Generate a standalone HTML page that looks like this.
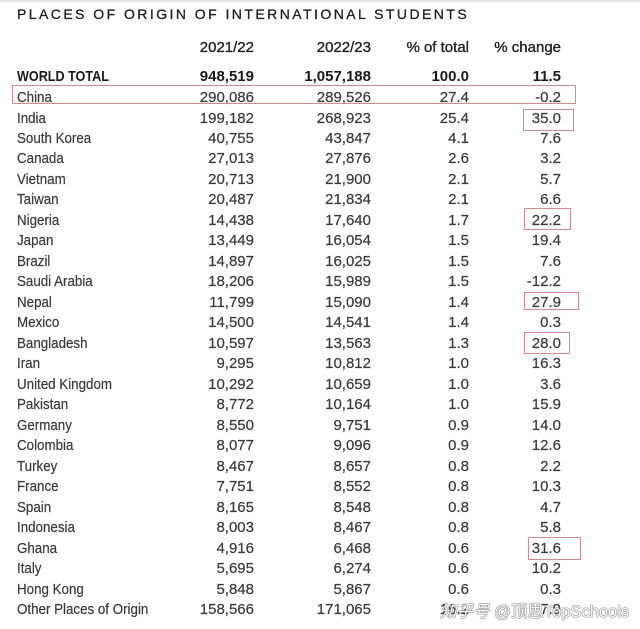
<!DOCTYPE html>
<html><head><meta charset="utf-8">
<style>
html,body{margin:0;padding:0;background:#fff;}
body{width:640px;height:629px;position:relative;overflow:hidden;font-family:"Liberation Sans","Noto Sans CJK SC",sans-serif;color:#3a3a3a;}
.top{position:absolute;left:0;top:0;width:640px;height:2px;background:#e4e4e4;}
.title{position:absolute;left:17px;top:5px;font-size:14px;line-height:18px;letter-spacing:2.45px;color:#1e1e1e;white-space:nowrap;-webkit-text-stroke:0.3px #1e1e1e;}
.r{position:absolute;left:0;width:640px;height:20px;line-height:20px;font-size:15px;white-space:nowrap;-webkit-text-stroke:0.2px #3a3a3a;}
.r span{position:absolute;}
.n{left:17px;transform:scaleX(0.89);transform-origin:0 50%;}
.a{right:386px;}
.b{right:269px;}
.c{right:171px;}
.d{right:79px;}
.h{color:#222;-webkit-text-stroke:0.35px #222;}
.w{font-weight:bold;color:#1a1a1a;-webkit-text-stroke:0;}
.w .n{transform:scaleX(0.84);}
.box{position:absolute;border:1.5px solid #d98891;box-sizing:border-box;}
.wm{position:absolute;left:440px;top:601px;font-size:16.5px;line-height:22px;color:#fff;white-space:nowrap;text-shadow:0 0 1px #555,0 0 1px #555,0 0 1px #777;font-family:"Liberation Sans","Noto Sans CJK SC",sans-serif;}
.wm i{font-style:italic;}
</style></head><body>
<div class="top"></div>
<div class="title">PLACES OF ORIGIN OF INTERNATIONAL STUDENTS</div>

<div class="r h" style="top:38px"><span class="a">2021/22</span><span class="b">2022/23</span><span class="c">% of total</span><span class="d">% change</span></div>
<div class="r w" style="top:67px"><span class="n">WORLD TOTAL</span><span class="a">948,519</span><span class="b">1,057,188</span><span class="c">100.0</span><span class="d">11.5</span></div>

<div class="r" style="top:88px"><span class="n">China</span><span class="a">290,086</span><span class="b">289,526</span><span class="c">27.4</span><span class="d">-0.2</span></div>
<div class="r" style="top:108.5px"><span class="n">India</span><span class="a">199,182</span><span class="b">268,923</span><span class="c">25.4</span><span class="d">35.0</span></div>
<div class="r" style="top:129px"><span class="n">South Korea</span><span class="a">40,755</span><span class="b">43,847</span><span class="c">4.1</span><span class="d">7.6</span></div>
<div class="r" style="top:149.4px"><span class="n">Canada</span><span class="a">27,013</span><span class="b">27,876</span><span class="c">2.6</span><span class="d">3.2</span></div>
<div class="r" style="top:169.9px"><span class="n">Vietnam</span><span class="a">20,713</span><span class="b">21,900</span><span class="c">2.1</span><span class="d">5.7</span></div>
<div class="r" style="top:190.4px"><span class="n">Taiwan</span><span class="a">20,487</span><span class="b">21,834</span><span class="c">2.1</span><span class="d">6.6</span></div>
<div class="r" style="top:210.9px"><span class="n">Nigeria</span><span class="a">14,438</span><span class="b">17,640</span><span class="c">1.7</span><span class="d">22.2</span></div>
<div class="r" style="top:231.4px"><span class="n">Japan</span><span class="a">13,449</span><span class="b">16,054</span><span class="c">1.5</span><span class="d">19.4</span></div>
<div class="r" style="top:251.8px"><span class="n">Brazil</span><span class="a">14,897</span><span class="b">16,025</span><span class="c">1.5</span><span class="d">7.6</span></div>
<div class="r" style="top:272.3px"><span class="n">Saudi Arabia</span><span class="a">18,206</span><span class="b">15,989</span><span class="c">1.5</span><span class="d">-12.2</span></div>
<div class="r" style="top:292.8px"><span class="n">Nepal</span><span class="a">11,799</span><span class="b">15,090</span><span class="c">1.4</span><span class="d">27.9</span></div>
<div class="r" style="top:313.3px"><span class="n">Mexico</span><span class="a">14,500</span><span class="b">14,541</span><span class="c">1.4</span><span class="d">0.3</span></div>
<div class="r" style="top:333.8px"><span class="n">Bangladesh</span><span class="a">10,597</span><span class="b">13,563</span><span class="c">1.3</span><span class="d">28.0</span></div>
<div class="r" style="top:354.2px"><span class="n">Iran</span><span class="a">9,295</span><span class="b">10,812</span><span class="c">1.0</span><span class="d">16.3</span></div>
<div class="r" style="top:374.7px"><span class="n">United Kingdom</span><span class="a">10,292</span><span class="b">10,659</span><span class="c">1.0</span><span class="d">3.6</span></div>
<div class="r" style="top:395.2px"><span class="n">Pakistan</span><span class="a">8,772</span><span class="b">10,164</span><span class="c">1.0</span><span class="d">15.9</span></div>
<div class="r" style="top:415.7px"><span class="n">Germany</span><span class="a">8,550</span><span class="b">9,751</span><span class="c">0.9</span><span class="d">14.0</span></div>
<div class="r" style="top:436.2px"><span class="n">Colombia</span><span class="a">8,077</span><span class="b">9,096</span><span class="c">0.9</span><span class="d">12.6</span></div>
<div class="r" style="top:456.6px"><span class="n">Turkey</span><span class="a">8,467</span><span class="b">8,657</span><span class="c">0.8</span><span class="d">2.2</span></div>
<div class="r" style="top:477.1px"><span class="n">France</span><span class="a">7,751</span><span class="b">8,552</span><span class="c">0.8</span><span class="d">10.3</span></div>
<div class="r" style="top:497.6px"><span class="n">Spain</span><span class="a">8,165</span><span class="b">8,548</span><span class="c">0.8</span><span class="d">4.7</span></div>
<div class="r" style="top:518.1px"><span class="n">Indonesia</span><span class="a">8,003</span><span class="b">8,467</span><span class="c">0.8</span><span class="d">5.8</span></div>
<div class="r" style="top:538.6px"><span class="n">Ghana</span><span class="a">4,916</span><span class="b">6,468</span><span class="c">0.6</span><span class="d">31.6</span></div>
<div class="r" style="top:559px"><span class="n">Italy</span><span class="a">5,695</span><span class="b">6,274</span><span class="c">0.6</span><span class="d">10.2</span></div>
<div class="r" style="top:579.5px"><span class="n">Hong Kong</span><span class="a">5,848</span><span class="b">5,867</span><span class="c">0.6</span><span class="d">0.3</span></div>
<div class="r" style="top:600px"><span class="n">Other Places of Origin</span><span class="a">158,566</span><span class="b">171,065</span><span class="c">16.2</span><span class="d">7.9</span></div>

<div class="box" style="left:12px;top:85px;width:564px;height:19px"></div>
<div class="box" style="left:523px;top:109px;width:51px;height:22px"></div>
<div class="box" style="left:524px;top:208px;width:47px;height:22px"></div>
<div class="box" style="left:524px;top:292px;width:55px;height:18px"></div>
<div class="box" style="left:524px;top:332px;width:46px;height:22px"></div>
<div class="box" style="left:528px;top:537px;width:53px;height:23px"></div>

<div class="wm"><i>知乎号</i> @顶思TopSchools</div>
</body></html>
